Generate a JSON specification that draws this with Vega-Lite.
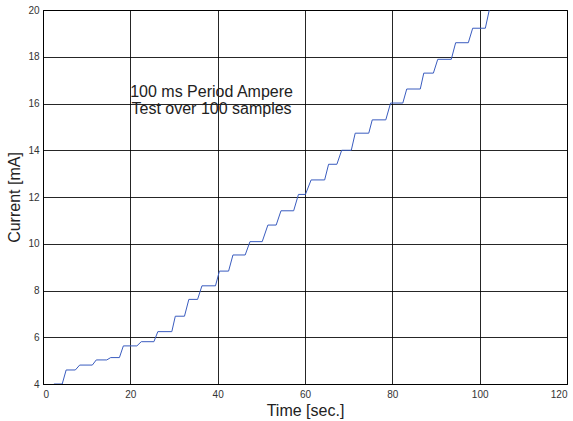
{
  "$schema": "https://vega.github.io/schema/vega-lite/v6.json",
  "autosize": "none",
  "width": 524,
  "height": 374,
  "padding": {"left": 43, "top": 10, "right": 6, "bottom": 37},
  "background": "white",
  "config": {
    "font": "Liberation Sans",
    "view": {"stroke": "#000000", "strokeWidth": 1},
    "axis": {
      "grid": true,
      "gridColor": "#000000",
      "gridOpacity": 0.85,
      "gridWidth": 1,
      "domainColor": "#000000",
      "ticks": false,
      "labelFont": "Liberation Sans",
      "labelFontSize": 10,
      "labelColor": "#333333",
      "titleFont": "Liberation Sans",
      "titleFontSize": 16,
      "titleFontWeight": "normal",
      "titleColor": "#222222"
    }
  },
  "datasets": {
    "current": [
      {"t": 2.5, "mA": 4.0}, {"t": 4.4, "mA": 4.0},
      {"t": 5.3, "mA": 4.6}, {"t": 7.4, "mA": 4.6},
      {"t": 8.4, "mA": 4.81}, {"t": 11.3, "mA": 4.81},
      {"t": 12.2, "mA": 5.03}, {"t": 14.6, "mA": 5.03},
      {"t": 15.5, "mA": 5.13}, {"t": 17.5, "mA": 5.13},
      {"t": 18.4, "mA": 5.63}, {"t": 21.5, "mA": 5.63},
      {"t": 22.5, "mA": 5.81}, {"t": 25.4, "mA": 5.81},
      {"t": 26.3, "mA": 6.24}, {"t": 29.5, "mA": 6.24},
      {"t": 30.3, "mA": 6.9}, {"t": 32.4, "mA": 6.9},
      {"t": 33.4, "mA": 7.62}, {"t": 35.4, "mA": 7.62},
      {"t": 36.4, "mA": 8.2}, {"t": 39.5, "mA": 8.2},
      {"t": 40.4, "mA": 8.83}, {"t": 42.5, "mA": 8.83},
      {"t": 43.5, "mA": 9.52}, {"t": 46.3, "mA": 9.52},
      {"t": 47.4, "mA": 10.09}, {"t": 50.2, "mA": 10.09},
      {"t": 51.5, "mA": 10.8}, {"t": 53.4, "mA": 10.8},
      {"t": 54.5, "mA": 11.41}, {"t": 57.4, "mA": 11.41},
      {"t": 58.5, "mA": 12.11}, {"t": 60.1, "mA": 12.11},
      {"t": 61.4, "mA": 12.73}, {"t": 64.5, "mA": 12.73},
      {"t": 65.4, "mA": 13.4}, {"t": 67.3, "mA": 13.4},
      {"t": 68.4, "mA": 14.0}, {"t": 70.6, "mA": 14.0},
      {"t": 71.5, "mA": 14.73}, {"t": 74.6, "mA": 14.73},
      {"t": 75.4, "mA": 15.3}, {"t": 78.5, "mA": 15.3},
      {"t": 79.6, "mA": 16.02}, {"t": 82.4, "mA": 16.02},
      {"t": 83.3, "mA": 16.62}, {"t": 86.4, "mA": 16.62},
      {"t": 87.2, "mA": 17.3}, {"t": 89.4, "mA": 17.3},
      {"t": 90.4, "mA": 17.89}, {"t": 93.5, "mA": 17.89},
      {"t": 94.5, "mA": 18.6}, {"t": 97.4, "mA": 18.6},
      {"t": 98.4, "mA": 19.22}, {"t": 101.3, "mA": 19.22},
      {"t": 102.2, "mA": 20.0}
    ],
    "notes": [
      {"t": 38.6, "mA": 16.29, "label": "100 ms Period Ampere"},
      {"t": 38.6, "mA": 15.54, "label": "Test over 100 samples"}
    ]
  },
  "layer": [
    {
      "data": {"name": "current"},
      "mark": {"type": "line", "color": "#3a5cbf", "strokeWidth": 1, "clip": true},
      "encoding": {
        "x": {
          "field": "t", "type": "quantitative",
          "scale": {"domain": [0, 120], "nice": false, "zero": false},
          "axis": {"values": [0, 20, 40, 60, 80, 100, 120], "title": "Time [sec.]", "labelPadding": 5, "titlePadding": 3}
        },
        "y": {
          "field": "mA", "type": "quantitative",
          "scale": {"domain": [4, 20], "nice": false, "zero": false},
          "axis": {"values": [4, 6, 8, 10, 12, 14, 16, 18, 20], "title": "Current [mA]", "labelPadding": 4, "titlePadding": 5}
        }
      }
    },
    {
      "data": {"name": "notes"},
      "mark": {"type": "text", "font": "Liberation Sans", "fontSize": 16, "color": "#222222", "align": "center", "baseline": "alphabetic"},
      "encoding": {
        "x": {"field": "t", "type": "quantitative"},
        "y": {"field": "mA", "type": "quantitative"},
        "text": {"field": "label"}
      }
    }
  ]
}
